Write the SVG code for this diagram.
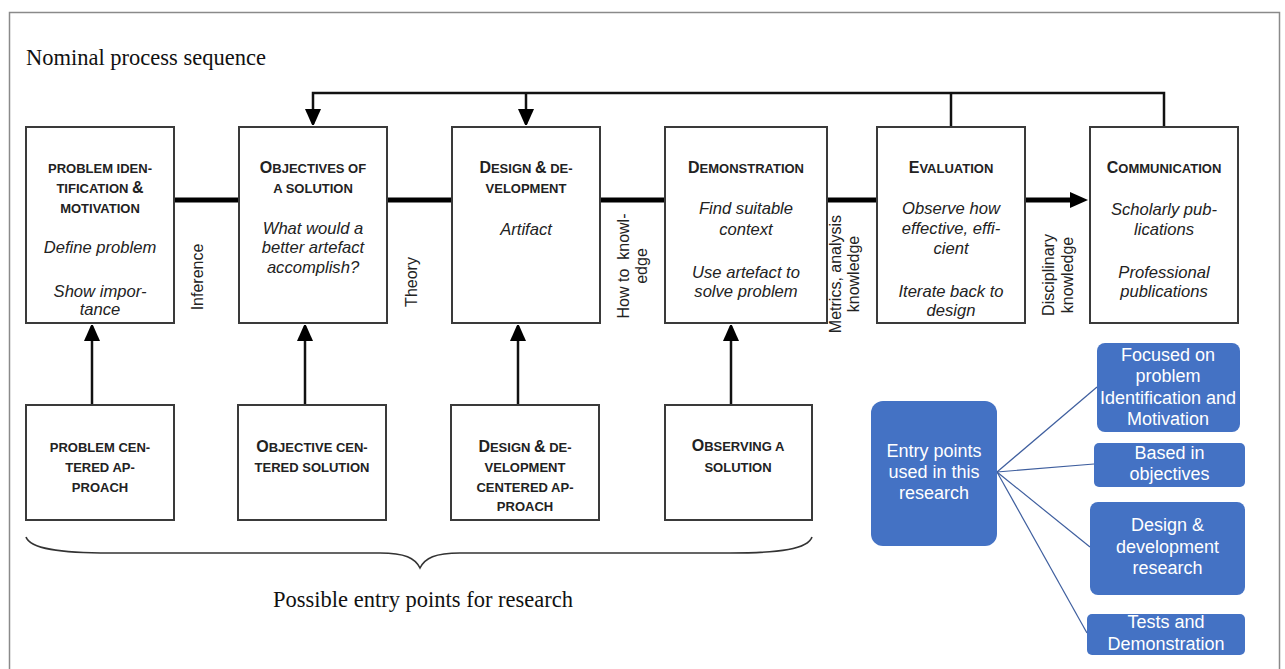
<svg xmlns="http://www.w3.org/2000/svg" width="1285" height="669" viewBox="0 0 1285 669">
<style>
.frame{fill:none;stroke:#8a8a8a;stroke-width:1.5}
.box{fill:#fff;stroke:#3a3a3a;stroke-width:2}
.t{font-family:"Liberation Sans",Arial,sans-serif;font-weight:bold;font-size:13px;fill:#222;text-anchor:middle}
.c{font-size:16px}
.i{font-family:"Liberation Sans",Arial,sans-serif;font-style:italic;font-size:16.6px;fill:#222;text-anchor:middle}
.lab{font-family:"Liberation Sans",Arial,sans-serif;font-size:16px;fill:#222;text-anchor:middle}
.serif{font-family:"Liberation Serif","Times New Roman",serif;font-size:22.5px;fill:#111}
.thick{stroke:#000;stroke-width:5;fill:none}
.line{stroke:#111;stroke-width:2.5;fill:none}
.blue{fill:#4472C4}
.bt{font-family:"Liberation Sans",Arial,sans-serif;font-size:18px;fill:#fff;text-anchor:middle}
.bl{stroke:#3E5E9E;stroke-width:1.2;fill:none}
.brace{stroke:#333;stroke-width:1.6;fill:none}
</style>
<defs>
<marker id="ah" viewBox="0 0 16 18" refX="15" refY="8" markerWidth="16" markerHeight="18" markerUnits="userSpaceOnUse" orient="auto">
<path d="M0,0 L18,8 L0,16 z" fill="#000"/>
</marker>
<marker id="ahT" viewBox="0 0 18 16" refX="10" refY="8" markerWidth="18" markerHeight="16" markerUnits="userSpaceOnUse" orient="auto">
<path d="M0,0 L18,8 L0,16 z" fill="#000"/>
</marker>
<clipPath id="clipEval"><rect x="877" y="127" width="148" height="194"/></clipPath>
</defs>
<rect class="frame" x="9.5" y="12.5" width="1270" height="700"/>
<text class="serif" x="26" y="65">Nominal process sequence</text>

<g id="connectors">
<line class="thick" x1="174" y1="200" x2="239" y2="200"/>
<line class="thick" x1="387" y1="200" x2="452" y2="200"/>
<line class="thick" x1="600" y1="200" x2="665" y2="200"/>
<line class="thick" x1="827" y1="200" x2="877" y2="200"/>
<line class="thick" x1="1025" y1="200" x2="1080" y2="200" marker-end="url(#ahT)"/>
<path class="line" d="M1164,127 V93 H313 V124" marker-end="url(#ah)"/>
<path class="line" d="M526,93 V124" marker-end="url(#ah)"/>
<path class="line" d="M951,93 V127"/>
<path class="line" d="M92,405 V326" marker-end="url(#ah)"/>
<path class="line" d="M305,405 V326" marker-end="url(#ah)"/>
<path class="line" d="M518,405 V326" marker-end="url(#ah)"/>
<path class="line" d="M731,405 V326" marker-end="url(#ah)"/>
<path class="brace" d="M26,537 C30,549 60,553 110,553 L380,553 C405,553 415,558 420,568 C425,558 435,553 460,553 L730,553 C780,553 808,549 812,537"/>
<line class="bl" x1="997" y1="472" x2="1097" y2="387"/>
<line class="bl" x1="997" y1="472" x2="1094" y2="464"/>
<line class="bl" x1="997" y1="472" x2="1090" y2="547"/>
<line class="bl" x1="997" y1="472" x2="1087" y2="633"/>
</g>

<g id="labels">
<text class="lab" transform="translate(203,277) rotate(-90)">Inference</text>
<text class="lab" transform="translate(417,282) rotate(-90)">Theory</text>
<text class="lab" transform="translate(629,266) rotate(-90)">How to&#160; knowl-</text>
<text class="lab" transform="translate(647,266) rotate(-90)">edge</text>
<text class="lab" transform="translate(841,274) rotate(-90)">Metrics, analysis</text>
<text class="lab" transform="translate(859,274) rotate(-90)">knowledge</text>
<text class="lab" transform="translate(1054,275) rotate(-90)">Disciplinary</text>
<text class="lab" transform="translate(1073,275) rotate(-90)">knowledge</text>
<text class="serif" x="423" y="607" text-anchor="middle">Possible entry points for research</text>
</g>

<g id="n1">
<rect class="box" x="26" y="127" width="148" height="196"/>
<text class="t" x="100" y="173">PROBLEM IDEN-</text>
<text class="t" x="100" y="193">TIFICATION <tspan class="c">&amp;</tspan></text>
<text class="t" x="100" y="213">MOTIVATION</text>
<text class="i" x="100" y="253">Define problem</text>
<text class="i" x="100" y="297">Show impor-</text>
<text class="i" x="100" y="315">tance</text>
</g>
<g id="n2">
<rect class="box" x="239" y="127" width="148" height="196"/>
<text class="t" x="313" y="173"><tspan class="c">O</tspan>BJECTIVES OF</text>
<text class="t" x="313" y="193">A SOLUTION</text>
<text class="i" x="313" y="234">What would a</text>
<text class="i" x="313" y="253">better artefact</text>
<text class="i" x="313" y="273">accomplish?</text>
</g>
<g id="n3">
<rect class="box" x="452" y="127" width="148" height="196"/>
<text class="t" x="526" y="173"><tspan class="c">D</tspan>ESIGN <tspan class="c">&amp;</tspan> DE-</text>
<text class="t" x="526" y="193">VELOPMENT</text>
<text class="i" x="526" y="235">Artifact</text>
</g>
<g id="n4">
<rect class="box" x="665" y="127" width="162" height="196"/>
<text class="t" x="746" y="173"><tspan class="c">D</tspan>EMONSTRATION</text>
<text class="i" x="746" y="214">Find suitable</text>
<text class="i" x="746" y="235">context</text>
<text class="i" x="746" y="278">Use artefact to</text>
<text class="i" x="746" y="297">solve problem</text>
</g>
<g id="n5">
<rect class="box" x="877" y="127" width="148" height="196"/>
<text class="t" x="951" y="173"><tspan class="c">E</tspan>VALUATION</text>
<text class="i" x="951" y="214">Observe how</text>
<text class="i" x="951" y="234">effective, effi-</text>
<text class="i" x="951" y="254">cient</text>
<text class="i" x="951" y="297">Iterate back to</text>
<text class="i" x="951" y="316" clip-path="url(#clipEval)">design</text>
</g>
<g id="n6">
<rect class="box" x="1090" y="127" width="148" height="196"/>
<text class="t" x="1164" y="173"><tspan class="c">C</tspan>OMMUNICATION</text>
<text class="i" x="1164" y="215">Scholarly pub-</text>
<text class="i" x="1164" y="235">lications</text>
<text class="i" x="1164" y="278">Professional</text>
<text class="i" x="1164" y="297">publications</text>
</g>

<g id="b1">
<rect class="box" x="26" y="405" width="148" height="115"/>
<text class="t" x="100" y="452">PROBLEM CEN-</text>
<text class="t" x="100" y="472">TERED AP-</text>
<text class="t" x="100" y="492">PROACH</text>
</g>
<g id="b2">
<rect class="box" x="238" y="405" width="148" height="115"/>
<text class="t" x="312" y="452"><tspan class="c">O</tspan>BJECTIVE CEN-</text>
<text class="t" x="312" y="472">TERED SOLUTION</text>
</g>
<g id="b3">
<rect class="box" x="451" y="405" width="148" height="115"/>
<text class="t" x="525" y="452"><tspan class="c">D</tspan>ESIGN <tspan class="c">&amp;</tspan> DE-</text>
<text class="t" x="525" y="472">VELOPMENT</text>
<text class="t" x="525" y="492">CENTERED AP-</text>
<text class="t" x="525" y="511">PROACH</text>
</g>
<g id="b4">
<rect class="box" x="665" y="405" width="147" height="115"/>
<text class="t" x="738" y="451"><tspan class="c">O</tspan>BSERVING A</text>
<text class="t" x="738" y="472">SOLUTION</text>
</g>

<g id="entry">
<rect class="blue" x="871" y="401" width="126" height="145" rx="12"/>
<text class="bt" x="934" y="457">Entry points</text>
<text class="bt" x="934" y="478">used in this</text>
<text class="bt" x="934" y="499">research</text>
</g>
<g id="eA">
<rect class="blue" x="1097" y="343" width="143" height="89" rx="8"/>
<text class="bt" x="1168" y="361">Focused on</text>
<text class="bt" x="1168" y="382">problem</text>
<text class="bt" x="1168" y="404">Identification and</text>
<text class="bt" x="1168" y="425">Motivation</text>
</g>
<g id="eB">
<rect class="blue" x="1094" y="443" width="151" height="44" rx="5"/>
<text class="bt" x="1169.5" y="459">Based in</text>
<text class="bt" x="1169.5" y="480">objectives</text>
</g>
<g id="eC">
<rect class="blue" x="1090" y="502" width="155" height="93" rx="8"/>
<text class="bt" x="1167.5" y="531">Design &amp;</text>
<text class="bt" x="1167.5" y="553">development</text>
<text class="bt" x="1167.5" y="574">research</text>
</g>
<g id="eD">
<rect class="blue" x="1087" y="614" width="158" height="41" rx="5"/>
<text class="bt" x="1166" y="628">Tests and</text>
<text class="bt" x="1166" y="650">Demonstration</text>
</g>
</svg>
